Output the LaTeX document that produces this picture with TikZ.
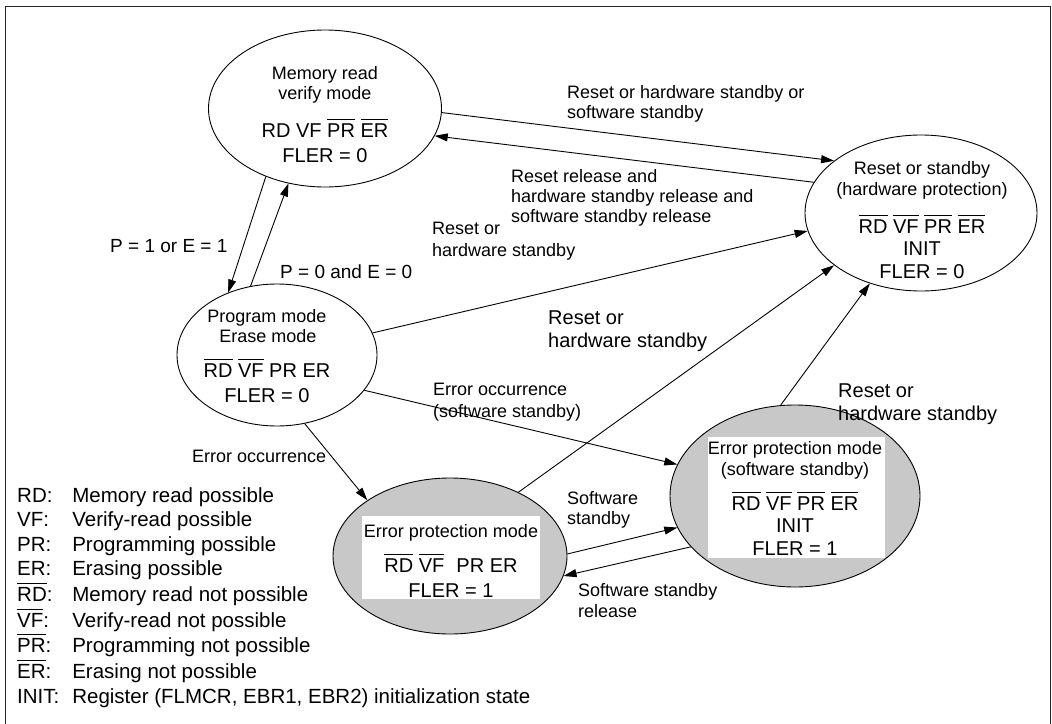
\documentclass[tikz,border=0pt]{standalone}
\usepackage{fontspec}
\setmainfont{Liberation Sans}
\usetikzlibrary{arrows.meta,shapes.geometric}

\definecolor{errgray}{RGB}{200,200,200}
% text with a bar over it (negated flag)
\newcommand\ovl[1]{{\setbox0\hbox{#1}\rlap{\rule[\dimexpr\ht0+3.5pt\relax]{\wd0}{0.9pt}}\box0}}

\begin{document}
\begin{tikzpicture}[x=1pt,y=-1pt,
  state/.style={ellipse, draw, line width=0.9pt, inner sep=0pt},
  errstate/.style={state, fill=errgray},
  whitebox/.style={rectangle, fill=white, inner sep=0pt},
  tsmall/.style={font=\fontsize{18}{20}\selectfont, inner sep=0pt, anchor=base},
  tbig/.style={font=\fontsize{20}{22.5}\selectfont, inner sep=0pt, anchor=base},
  lab/.style={font=\fontsize{18}{20}\selectfont, align=left, inner sep=0pt, anchor=north west},
  labbig/.style={font=\fontsize{20}{23}\selectfont, align=left, inner sep=0pt, anchor=north west},
  arr/.style={line width=0.9pt, -{Triangle[length=13pt,width=8pt]}}
]
\useasboundingbox (0,0) rectangle (1052,723);

% frame
\draw[line width=1.5pt, black!85] (5.5,735) -- (5.5,6.5) -- (1050.5,6.5) -- (1050.5,735);

% states
\node[state, minimum width=233pt, minimum height=157pt] (mem) at (325,108.5) {};
\node[state, minimum width=232pt, minimum height=156pt] (rst) at (921,213) {};
\node[state, minimum width=200pt, minimum height=142pt] (prg) at (277,355) {};
\node[errstate, minimum width=234pt, minimum height=156pt] (err1) at (450,556) {};
\node[errstate, minimum width=250pt, minimum height=182pt] (err2) at (795,496) {};

% white panels inside the error states
\node[whitebox, minimum width=178pt, minimum height=83pt] (err1box) at (451,557.5) {};
\node[whitebox, minimum width=177pt, minimum height=121pt] (err2box) at (796.5,497.5) {};

% state texts
\node[tsmall] (memA) at (325,79) {Memory read};
\node[tsmall] (memB) at (325,99) {verify mode};
\node[tbig] (memC) at (325,137) {RD VF \ovl{PR} \ovl{ER}};
\node[tbig] (memD) at (325,162) {FLER = 0};

\node[tsmall] (rstA) at (922,174) {Reset or standby};
\node[tsmall] (rstB) at (922,195) {(hardware protection)};
\node[tbig] (rstC) at (922,233) {\ovl{RD} \ovl{VF} \ovl{PR} \ovl{ER}};
\node[tbig] (rstD) at (922,255) {INIT};
\node[tbig] (rstE) at (922,278) {FLER = 0};

\node[tsmall] (prgA) at (267,322) {Program mode};
\node[tsmall] (prgB) at (268,342) {Erase mode};
\node[tbig] (prgC) at (267,377) {\ovl{RD} \ovl{VF} PR ER};
\node[tbig] (prgD) at (267,402) {FLER = 0};

\node[tsmall] (err1A) at (451,537) {Error protection mode};
\node[tbig] (err1B) at (451,572) {\ovl{RD} \ovl{VF}\hspace{0.6em}PR ER};
\node[tbig] (err1C) at (451,597) {FLER = 1};

\node[tsmall] (err2A) at (795,454) {Error protection mode};
\node[tsmall] (err2B) at (795,475) {(software standby)};
\node[tbig] (err2C) at (795,510) {\ovl{RD} \ovl{VF} \ovl{PR} \ovl{ER}};
\node[tbig] (err2D) at (795,532) {INIT};
\node[tbig] (err2E) at (795,555) {FLER = 1};

% transitions
\draw[arr] (mem.-2.2) -- (rst.149.2);
\draw[arr] (rst.164.0) -- (mem.-14.3);
\draw[arr] (mem.-131.6) -- (prg.128.2);
\draw[arr] (prg.111.1) -- (mem.-116.7);
\draw[arr] (prg.13.2) -- (rst.-171.2);
\draw[arr] (prg.-22.9) -- (err2.165.2);
\draw[arr] (prg.-68.0) -- (err1.146.0);
\draw[arr] (err1.43.7) -- (rst.-149.2);
\draw[arr] (err2.99.4) -- (rst.-126.4);
\draw[arr] (err1.1.5) -- (err2.-165.1);
\draw[arr] (err2.-154.1) -- (err1.-10.5);

% transition labels
\node[lab] (l1) at (567,85) {Reset or hardware standby or\\software standby};
\node[lab] (l2) at (511,169) {Reset release and\\hardware standby release and\\software standby release};
\node[tsmall, font=\fontsize{19}{21}\selectfont, anchor=base west] (l3) at (110,252.5) {P = 1 or E = 1};
\node[tsmall, font=\fontsize{19}{21}\selectfont, anchor=base west] (l4) at (280,278.5) {P = 0 and E = 0};
\node[lab, font=\fontsize{18}{22}\selectfont] (l5) at (432,221.5) {Reset or\\hardware standby};
\node[labbig] (l6) at (548,310.6) {Reset or\\hardware standby};
\node[labbig] (l7) at (838,383.6) {Reset or\\hardware standby};
\node[lab, font=\fontsize{18}{22}\selectfont] (l8) at (433,383) {Error occurrence\\(software standby)};
\node[tsmall, anchor=base west] (l9) at (192,462) {Error occurrence};
\node[lab] (l10) at (567,491) {Software\\standby};
\node[lab, font=\fontsize{18}{21}\selectfont] (l11) at (578,583) {Software standby\\release};

% key to the flags
\node[inner sep=0pt, anchor=north west, font=\fontsize{20.5}{24.4}\selectfont] (legend) at (17,485) {%
\begin{tabular}{@{}l@{\hspace{13pt}}l@{}}
RD: & Memory read possible\\
VF: & Verify-read possible\\
PR: & Programming possible\\
ER: & Erasing possible\\
\ovl{RD}: & Memory read not possible\\
\ovl{VF}: & Verify-read not possible\\
\ovl{PR}: & Programming not possible\\
\ovl{ER}: & Erasing not possible\\
INIT: & Register (FLMCR, EBR1, EBR2) initialization state
\end{tabular}};
\end{tikzpicture}
\end{document}
